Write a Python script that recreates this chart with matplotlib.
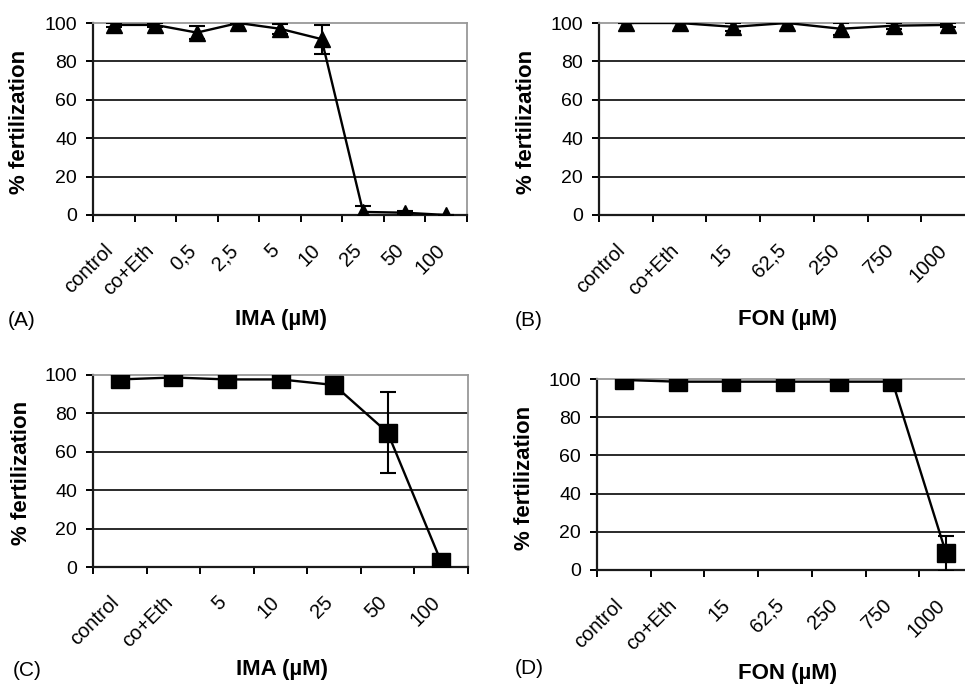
import matplotlib
matplotlib.use("Agg")
import matplotlib.pyplot as plt
import numpy as np

plt.rcParams['font.family'] = ['Liberation Sans', 'DejaVu Sans']

# ---- data ----
cats_a = ["control", "co+Eth", "0,5", "2,5", "5", "10", "25", "50", "100"]
vals_a = [99, 99, 95, 100, 97, 91.6, 1.6, 1.2, 0]
err_a = [1, 1, 3.3, 0, 2.7, 7.6, 3.3, 0.8, 0]

cats_b = ["control", "co+Eth", "15", "62,5", "250", "750", "1000"]
vals_b = [100, 100, 98, 100, 97, 98.6, 99]
err_b = [0, 0, 2, 0, 3, 1.5, 1]

cats_c = ["control", "co+Eth", "5", "10", "25", "50", "100"]
vals_c = [97.7, 98.7, 97.7, 97.7, 94.8, 70, 2.6]
err_c = [1, 1, 1, 1, 1.5, 21, 1]

cats_d = ["control", "co+Eth", "15", "62,5", "250", "750", "1000"]
vals_d = [99.5, 98.6, 98.6, 98.6, 98.6, 98.6, 8.7]
err_d = [0.5, 0.5, 0.5, 0.5, 0.5, 0.5, 9]

yticks = [0, 20, 40, 60, 80, 100]

W, H = 965, 685
fig = plt.figure(figsize=(W / 100, H / 100), dpi=100)


def make_ax(left, top, right, bottom):
    return fig.add_axes([left / W, 1 - bottom / H, (right - left) / W, (bottom - top) / H])


def draw(ax, cats, vals, errs, marker, ms):
    n = len(cats)
    x = np.arange(n) + 0.5
    ax.set_xlim(0, n)
    ax.set_ylim(0, 100)
    for g in yticks[1:-1]:
        ax.axhline(g, color="#2a2a2a", lw=1.4, zorder=1)
    ax.errorbar(x, vals, yerr=errs, color="black", lw=1.7, marker=marker,
                ms=ms, mfc="black", mec="black", capsize=5.5, capthick=1.5,
                elinewidth=1.5, zorder=3)
    ax.set_yticks(yticks)
    ax.set_yticklabels([str(v) for v in yticks], fontsize=14)
    ax.tick_params(axis="y", direction="out", length=5, width=1.4, pad=6.5)
    ax.set_xticks(x)
    ax.set_xticklabels(cats, fontsize=14.5, rotation=45, ha="right",
                       va="baseline", rotation_mode="anchor")
    ax.tick_params(axis="x", which="major", length=0, pad=26)
    ax.set_xticks(np.arange(n + 1), minor=True)
    ax.tick_params(axis="x", which="minor", direction="out", length=5, width=1.4)
    for s in ["left", "bottom"]:
        ax.spines[s].set_color("#1a1a1a")
        ax.spines[s].set_linewidth(1.6)
    for s in ["top", "right"]:
        ax.spines[s].set_color("#999999")
        ax.spines[s].set_linewidth(1.3)
    ax.set_facecolor("white")


axA = make_ax(93, 23, 467, 215)
draw(axA, cats_a, vals_a, err_a, "^", 11)
axB = make_ax(599, 23, 975, 215)
draw(axB, cats_b, vals_b, err_b, "^", 11)
axC = make_ax(93, 375, 468, 567)
draw(axC, cats_c, vals_c, err_c, "s", 12.5)
axD = make_ax(597, 379, 973, 570)
draw(axD, cats_d, vals_d, err_d, "s", 12.5)

ylab_kw = dict(rotation=90, ha="center", va="center", fontsize=16, fontweight="bold")
fig.text(20 / W, 1 - 122 / H, "% fertilization", **ylab_kw)
fig.text(527 / W, 1 - 122 / H, "% fertilization", **ylab_kw)
fig.text(22 / W, 1 - 473 / H, "% fertilization", **ylab_kw)
fig.text(525 / W, 1 - 478 / H, "% fertilization", **ylab_kw)

xlab_kw = dict(ha="center", va="center", fontsize=16, fontweight="bold")
fig.text(281 / W, 1 - 320 / H, "IMA (µM)", **xlab_kw)
fig.text(788 / W, 1 - 320 / H, "FON (µM)", **xlab_kw)
fig.text(282 / W, 1 - 670 / H, "IMA (µM)", **xlab_kw)
fig.text(788 / W, 1 - 674 / H, "FON (µM)", **xlab_kw)

let_kw = dict(ha="left", va="center", fontsize=15)
fig.text(8 / W, 1 - 320 / H, "(A)", **let_kw)
fig.text(515 / W, 1 - 320 / H, "(B)", **let_kw)
fig.text(13 / W, 1 - 670 / H, "(C)", **let_kw)
fig.text(515 / W, 1 - 668 / H, "(D)", **let_kw)

fig.savefig("out.png", dpi=100, facecolor="white")
